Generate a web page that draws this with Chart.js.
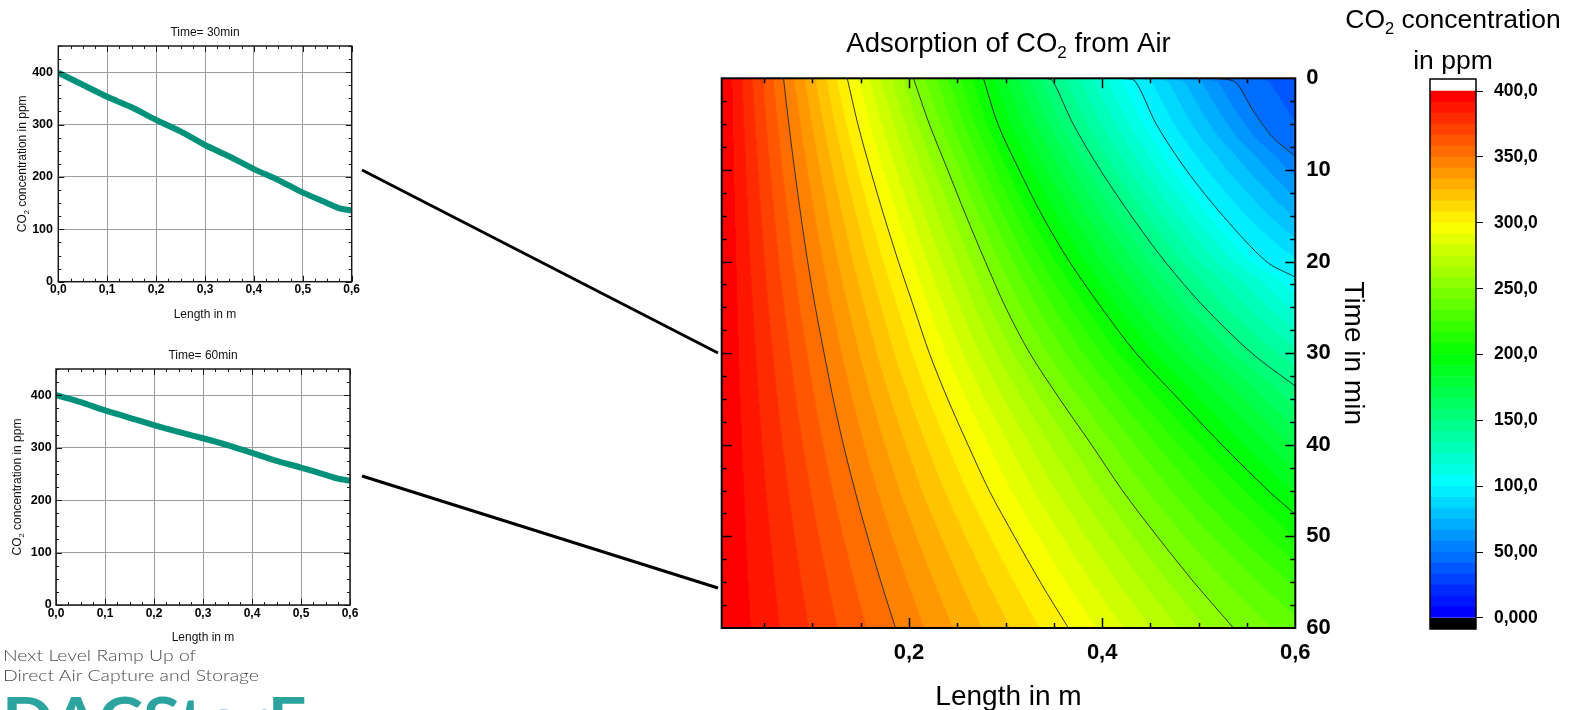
<!DOCTYPE html>
<html>
<head>
<meta charset="utf-8">
<script src="https://cdn.jsdelivr.net/npm/chart.js@4.4.1/dist/chart.umd.min.js"></script>
<style>
  html, body { margin: 0; padding: 0; background: #fff; }
  body { width: 1589px; height: 710px; position: relative; overflow: hidden; }
  canvas { position: absolute; }
  #tagline { position: absolute; left: 3px; top: 645px; font: 300 16.5px Lato, sans-serif; line-height: 20px;
             color: #4a4a4a; white-space: nowrap; transform-origin: 0 0; }
  #brand { position: absolute; left: 2px; top: 687px; font: 700 64px Lato, sans-serif; line-height: 64px;
           color: #2ba39f; white-space: nowrap; transform-origin: 0 0; }
</style>
</head>
<body>
<canvas id="profile30" width="362" height="330" style="left:0;top:0"></canvas>
<canvas id="profile60" width="362" height="318" style="left:0;top:330px"></canvas>
<canvas id="field" width="700" height="710" style="left:690px;top:0"></canvas>
<canvas id="legend" width="259" height="710" style="left:1330px;top:0"></canvas>
<div id="tagline">Next Level Ramp Up of<br>Direct Air Capture and Storage</div>
<div id="brand">DACStorE</div>
<canvas id="links" width="1589" height="710" style="left:0;top:0;pointer-events:none"></canvas>
<script>
const FONT = '"Liberation Sans", Arial, sans-serif';
Chart.defaults.font.family = FONT;
Chart.defaults.color = '#000';

// CO2 profiles along the column (m, ppm)
const profileLength = [0, 0.05, 0.1, 0.15, 0.2, 0.25, 0.3, 0.35, 0.4, 0.45, 0.5, 0.55, 0.575, 0.6];
const co2At30min = [399, 376, 353, 333, 309, 287, 261, 239, 215, 194, 170, 150, 140, 136];
const co2At60min = [400, 387, 371, 357, 343, 330, 318, 305, 290, 275, 262, 248, 241, 237];

const lengthTicks = [0, 0.1, 0.2, 0.3, 0.4, 0.5, 0.6];
const lengthTickText = ['0,0', '0,1', '0,2', '0,3', '0,4', '0,5', '0,6'];
const ppmTicks = [0, 100, 200, 300, 400];
const ppmTickText = ['0', '100', '200', '300', '400'];

// iso-concentration lines of the column map, [time in min, length in m]
const isoLevels = [350, 300, 250, 200, 150, 100, 50];
const iso350 = [[0, 0.070], [5, 0.0755], [10, 0.0815], [15, 0.088], [20, 0.095], [25, 0.103], [30, 0.112],
                [35, 0.1215], [40, 0.132], [45, 0.144], [50, 0.157], [55, 0.171], [60, 0.186]];
const iso300 = [[0, 0.136], [5, 0.147], [10, 0.160], [15, 0.174], [20, 0.189], [25, 0.205], [30, 0.221],
                [35, 0.240], [40, 0.261], [45, 0.283], [50, 0.309], [55, 0.336], [60, 0.365]];
const iso250 = [[0, 0.2045], [5, 0.221], [10, 0.240], [15, 0.259], [20, 0.279], [25, 0.300], [30, 0.325],
                [35, 0.356], [40, 0.389], [45, 0.421], [50, 0.457], [55, 0.495], [60, 0.536]];
const iso200 = [[0, 0.277], [5, 0.292], [10, 0.314], [15, 0.338], [20, 0.366], [25, 0.399], [30, 0.435],
                [35, 0.479], [40, 0.524], [45, 0.572], [47.6, 0.6]];
const iso150 = [[0, 0.343], [0.3, 0.349], [5, 0.370], [10, 0.398], [15, 0.430], [20, 0.465], [25, 0.506],
                [30, 0.555], [33.6, 0.6]];
const iso100 = [[0, 0.421], [0.3, 0.434], [5, 0.456], [10, 0.487], [15, 0.525], [20, 0.570], [21.7, 0.6]];
const iso50 = [[0, 0.515], [0.4, 0.5375], [3.5, 0.556], [6.5, 0.577], [8.5, 0.6]];
const isoLines = [iso350, iso300, iso250, iso200, iso150, iso100, iso50];

// concentration at the inlet and at the outlet (x = 0.6 m) over time
const inletCo2 = 400;
const outletTime = [0, 5, 8.5, 15, 21.7, 30, 33.6, 40, 47.6, 55, 60];
const outletCo2 = [35, 42, 50, 74, 100, 136, 150, 173, 200, 224, 237];

const mapLengthTicks = [0.2, 0.4, 0.6];
const mapLengthText = ['0,2', '0,4', '0,6'];
const timeTicks = [0, 10, 20, 30, 40, 50, 60];
const timeTickText = ['0', '10', '20', '30', '40', '50', '60'];

// colour scale
const scaleMin = 0, scaleMax = 400, bandCount = 48;
const scaleTicks = [0, 50, 100, 150, 200, 250, 300, 350, 400];
const scaleTickText = ['0,000', '50,00', '100,0', '150,0', '200,0', '250,0', '300,0', '350,0', '400,0'];

function rainbow(f) {
  const stops = [[0, 0, 255], [0, 255, 255], [0, 255, 0], [255, 255, 0], [255, 0, 0]];
  const s = Math.max(0, Math.min(1, f)) * 4;
  const i = Math.min(3, Math.floor(s)), u = s - i;
  return stops[i].map((c, j) => Math.round(c + (stops[i + 1][j] - c) * u));
}
const bandColors = Array.from({ length: bandCount }, (_, k) => rainbow(k / (bandCount - 1)));
const bandStep = (scaleMax - scaleMin) / bandCount;

// text with a subscript part, parts = [[text, isSub], ...]
function drawRich(ctx, parts, x, y, size, align) {
  const widths = parts.map(([t, sub]) => {
    ctx.font = (sub ? size * 0.62 : size) + 'px ' + FONT;
    return ctx.measureText(t).width;
  });
  let cx = align === 'center' ? x - widths.reduce((a, b) => a + b, 0) / 2 : x;
  ctx.textAlign = 'left';
  ctx.textBaseline = 'alphabetic';
  parts.forEach(([t, sub], i) => {
    ctx.font = (sub ? size * 0.62 : size) + 'px ' + FONT;
    ctx.fillText(t, cx, sub ? y + size * 0.22 : y);
    cx += widths[i];
  });
}

function profileChart(id, values, title, box) {
  const decor = {
    id: 'decor',
    afterDraw(chart) {
      const { ctx, chartArea: a, scales: { x, y } } = chart;
      ctx.save();
      ctx.strokeStyle = '#1a1a1a';
      ctx.lineWidth = 1;
      ctx.beginPath();
      for (let i = 0; i <= 24; i++) {
        const px = Math.round(x.getPixelForValue(i * 0.025)) + 0.5;
        const len = i % 4 === 0 ? 6 : 3;
        ctx.moveTo(px, a.bottom); ctx.lineTo(px, a.bottom - len);
        ctx.moveTo(px, a.top); ctx.lineTo(px, a.top + len);
      }
      for (let i = 0; i <= 18; i++) {
        const py = Math.round(y.getPixelForValue(i * 25)) + 0.5;
        const len = i % 4 === 0 ? 6 : 3;
        ctx.moveTo(a.left, py); ctx.lineTo(a.left + len, py);
        ctx.moveTo(a.right, py); ctx.lineTo(a.right - len, py);
      }
      ctx.stroke();
      ctx.lineWidth = 1.5;
      ctx.strokeRect(a.left, a.top, a.right - a.left, a.bottom - a.top);
      ctx.fillStyle = '#111';
      const cx = (a.left + a.right) / 2;
      drawRich(ctx, [[title, 0]], cx, a.top - 10, 12, 'center');
      drawRich(ctx, [['Length in m', 0]], cx, a.bottom + 36, 12, 'center');
      ctx.translate(a.left - box.titleGap, (a.top + a.bottom) / 2);
      ctx.rotate(-Math.PI / 2);
      drawRich(ctx, [['CO', 0], ['2', 1], [' concentration in ppm', 0]], 0, 0, 12, 'center');
      ctx.restore();
    }
  };
  const canvas = document.getElementById(id);
  return new Chart(canvas, {
    type: 'line',
    data: {
      datasets: [{
        data: profileLength.map((x, i) => ({ x, y: values[i] })),
        borderColor: '#00917b',
        borderWidth: 6,
        pointRadius: 0,
        tension: 0.2
      }]
    },
    options: {
      responsive: false,
      animation: false,
      events: [],
      layout: { padding: { left: 0, top: box.top, right: canvas.width - box.right, bottom: 0 } },
      plugins: { legend: { display: false }, tooltip: { enabled: false } },
      scales: {
        x: {
          type: 'linear', min: 0, max: 0.6,
          afterBuildTicks: s => { s.ticks = lengthTicks.map(v => ({ value: v })); },
          afterFit: s => { s.height = canvas.height - box.bottom; },
          ticks: { callback: (v, i) => lengthTickText[i], font: { size: 12, weight: 'bold' }, padding: 1, maxRotation: 0, autoSkip: false },
          grid: { color: '#9c9c9c', lineWidth: 1, drawTicks: false },
          border: { display: false }
        },
        y: {
          type: 'linear', min: 0, max: 450,
          afterBuildTicks: s => { s.ticks = ppmTicks.map(v => ({ value: v })); },
          afterFit: s => { s.width = box.left; },
          ticks: { callback: (v, i) => ppmTickText[i], font: { size: 12.5, weight: 'bold' }, padding: box.labelPad, autoSkip: false },
          grid: { color: '#9c9c9c', lineWidth: 1, drawTicks: false },
          border: { display: false }
        }
      }
    },
    plugins: [decor]
  });
}

profileChart('profile30', co2At30min, 'Time= 30min', { left: 58.3, right: 351.7, top: 46, bottom: 281.7, labelPad: 5.3, titleGap: 32 });
profileChart('profile60', co2At60min, 'Time= 60min', { left: 56, right: 350, top: 39, bottom: 275, labelPad: 4.3, titleGap: 35 });

// ---- concentration map ----
function isoCrossing(line, t) {
  if (t < line[0][0] || t > line[line.length - 1][0]) return null;
  for (let i = 1; i < line.length; i++) {
    if (t <= line[i][0]) {
      const [t0, x0] = line[i - 1], [t1, x1] = line[i];
      return x0 + (x1 - x0) * (t - t0) / (t1 - t0);
    }
  }
  return null;
}
function outletAt(t) {
  for (let i = 1; i < outletTime.length; i++) {
    if (t <= outletTime[i]) {
      const u = (t - outletTime[i - 1]) / (outletTime[i] - outletTime[i - 1]);
      return outletCo2[i - 1] + (outletCo2[i] - outletCo2[i - 1]) * u;
    }
  }
  return outletCo2[outletCo2.length - 1];
}

const mapFill = {
  id: 'mapFill',
  beforeDatasetsDraw(chart) {
    const { ctx, chartArea: a, scales: { x, y } } = chart;
    const w = Math.round(a.right - a.left), h = Math.round(a.bottom - a.top);
    const off = document.createElement('canvas');
    off.width = w; off.height = h;
    const octx = off.getContext('2d');
    const img = octx.createImageData(w, h);
    const cols = [];
    for (let i = 0; i < w; i++) cols.push(x.getValueForPixel(a.left + (i + 0.5) * (a.right - a.left) / w));
    for (let j = 0; j < h; j++) {
      const t = y.getValueForPixel(a.top + (j + 0.5) * (a.bottom - a.top) / h);
      const knots = [[x.min, inletCo2]];
      isoLines.forEach((line, k) => {
        const xc = isoCrossing(line, t);
        if (xc !== null && xc < x.max) knots.push([xc, isoLevels[k]]);
      });
      knots.push([x.max, outletAt(t)]);
      let s = 1;
      for (let i = 0; i < w; i++) {
        const xv = cols[i];
        while (s < knots.length - 1 && xv > knots[s][0]) s++;
        const [x0, c0] = knots[s - 1], [x1, c1] = knots[s];
        const c = x1 > x0 ? c0 + (c1 - c0) * Math.min(1, Math.max(0, (xv - x0) / (x1 - x0))) : c1;
        const band = Math.max(0, Math.min(bandCount - 1, Math.floor((c - scaleMin) / bandStep)));
        const col = bandColors[band];
        const p = (j * w + i) * 4;
        img.data[p] = col[0]; img.data[p + 1] = col[1]; img.data[p + 2] = col[2]; img.data[p + 3] = 255;
      }
    }
    octx.putImageData(img, 0, 0);
    ctx.drawImage(off, a.left, a.top, a.right - a.left, a.bottom - a.top);
  }
};

const mapDecor = {
  id: 'mapDecor',
  afterDraw(chart) {
    const { ctx, chartArea: a, scales: { x, y } } = chart;
    ctx.save();
    ctx.strokeStyle = '#000';
    ctx.lineWidth = 1.5;
    ctx.beginPath();
    for (let v = 0.05; v < 0.6; v += 0.05) {
      const px = Math.round(x.getPixelForValue(v)) + 0.5;
      const major = Math.abs(v / 0.2 - Math.round(v / 0.2)) < 1e-6;
      const len = major ? 10 : 5;
      ctx.moveTo(px, a.bottom); ctx.lineTo(px, a.bottom - len);
      ctx.moveTo(px, a.top); ctx.lineTo(px, a.top + len);
    }
    for (let v = 2.5; v < 60; v += 2.5) {
      const py = Math.round(y.getPixelForValue(v)) + 0.5;
      const len = v % 10 === 0 ? 10 : 5;
      ctx.moveTo(a.left, py); ctx.lineTo(a.left + len, py);
      ctx.moveTo(a.right, py); ctx.lineTo(a.right - len, py);
    }
    ctx.stroke();
    ctx.lineWidth = 2;
    ctx.strokeRect(a.left, a.top, a.right - a.left, a.bottom - a.top);
    ctx.fillStyle = '#000';
    const cx = (a.left + a.right) / 2;
    drawRich(ctx, [['Adsorption of CO', 0], ['2', 1], [' from Air', 0]], cx, 52, 27.5, 'center');
    drawRich(ctx, [['Length in m', 0]], cx, 705, 28, 'center');
    ctx.translate(655, (a.top + a.bottom) / 2);
    ctx.rotate(Math.PI / 2);
    drawRich(ctx, [['Time in min', 0]], 0, 0, 28, 'center');
    ctx.restore();
  }
};

new Chart(document.getElementById('field'), {
  type: 'line',
  data: {
    datasets: isoLines.map(line => ({
      data: line.map(([t, x]) => ({ x, y: t })),
      borderColor: 'rgba(40,40,40,0.9)',
      borderWidth: 1,
      pointRadius: 0,
      tension: 0.3
    }))
  },
  options: {
    responsive: false,
    animation: false,
    events: [],
    layout: { padding: { left: 31.7, top: 78.3, right: 34.7, bottom: 0 } },
    plugins: { legend: { display: false }, tooltip: { enabled: false } },
    scales: {
      x: {
        type: 'linear', min: 0.006, max: 0.6,
        afterBuildTicks: s => { s.ticks = mapLengthTicks.map(v => ({ value: v })); },
        afterFit: s => { s.height = 82; },
        ticks: { callback: (v, i) => mapLengthText[i], font: { size: 22, weight: 'bold' }, padding: 12, maxRotation: 0, autoSkip: false },
        grid: { display: false, drawTicks: false },
        border: { display: false }
      },
      y: {
        type: 'linear', position: 'right', reverse: true, min: 0, max: 60,
        afterBuildTicks: s => { s.ticks = timeTicks.map(v => ({ value: v })); },
        afterFit: s => { s.width = 60; },
        ticks: { callback: (v, i) => timeTickText[i], font: { size: 22, weight: 'bold' }, padding: 11, autoSkip: false },
        grid: { display: false, drawTicks: false },
        border: { display: false }
      }
    }
  },
  plugins: [mapFill, mapDecor]
});

// ---- colour scale bar ----
const legendDecor = {
  id: 'legendDecor',
  afterDraw(chart) {
    const { ctx, chartArea: a } = chart;
    ctx.save();
    ctx.strokeStyle = '#000';
    ctx.lineWidth = 1.5;
    ctx.strokeRect(a.left, a.top, a.right - a.left, a.bottom - a.top);
    ctx.fillStyle = '#000';
    drawRich(ctx, [['CO', 0], ['2', 1], [' concentration', 0]], 123, 28, 26.5, 'center');
    drawRich(ctx, [['in ppm', 0]], 123, 69, 26.5, 'center');
    ctx.restore();
  }
};

const legendSets = bandColors.map((c, k) => ({
  data: [[scaleMin + k * bandStep, scaleMin + (k + 1) * bandStep]],
  backgroundColor: 'rgb(' + c.join(',') + ')'
}));
legendSets.push({ data: [[scaleMax, 409.2]], backgroundColor: '#ffffff' });
legendSets.push({ data: [[-8.4, scaleMin]], backgroundColor: '#000000' });
legendSets.forEach(d => Object.assign(d, { grouped: false, borderWidth: 0, categoryPercentage: 1, barPercentage: 1 }));

new Chart(document.getElementById('legend'), {
  type: 'bar',
  data: { labels: [''], datasets: legendSets },
  options: {
    responsive: false,
    animation: false,
    events: [],
    layout: { padding: { left: 100, top: 79, right: 0, bottom: 81 } },
    plugins: { legend: { display: false }, tooltip: { enabled: false } },
    scales: {
      x: { display: false },
      y: {
        position: 'right', min: -8.4, max: 409.2,
        afterBuildTicks: s => { s.ticks = scaleTicks.map(v => ({ value: v })); },
        afterFit: s => { s.width = 113; },
        ticks: { callback: (v, i) => scaleTickText[i], font: { size: 17.5, weight: 'bold' }, padding: 11, autoSkip: false },
        grid: { drawOnChartArea: false, drawTicks: true, tickLength: 7, color: '#000', lineWidth: 1 },
        border: { display: false }
      }
    }
  },
  plugins: [legendDecor]
});

// ---- connector lines from the profiles to the map ----
const lk = document.getElementById('links').getContext('2d');
lk.strokeStyle = '#000';
lk.lineWidth = 3;
lk.beginPath();
lk.moveTo(362, 170); lk.lineTo(718, 353);
lk.moveTo(362, 476); lk.lineTo(718, 588);
lk.stroke();

// fit the project lettering to its width
function fitWidth(el, target) {
  const w = el.getBoundingClientRect().width;
  if (w > 0) el.style.transform = 'scaleX(' + (target / w) + ')';
}
fitWidth(document.getElementById('tagline'), 256);
fitWidth(document.getElementById('brand'), 305);
</script>
</body>
</html>
